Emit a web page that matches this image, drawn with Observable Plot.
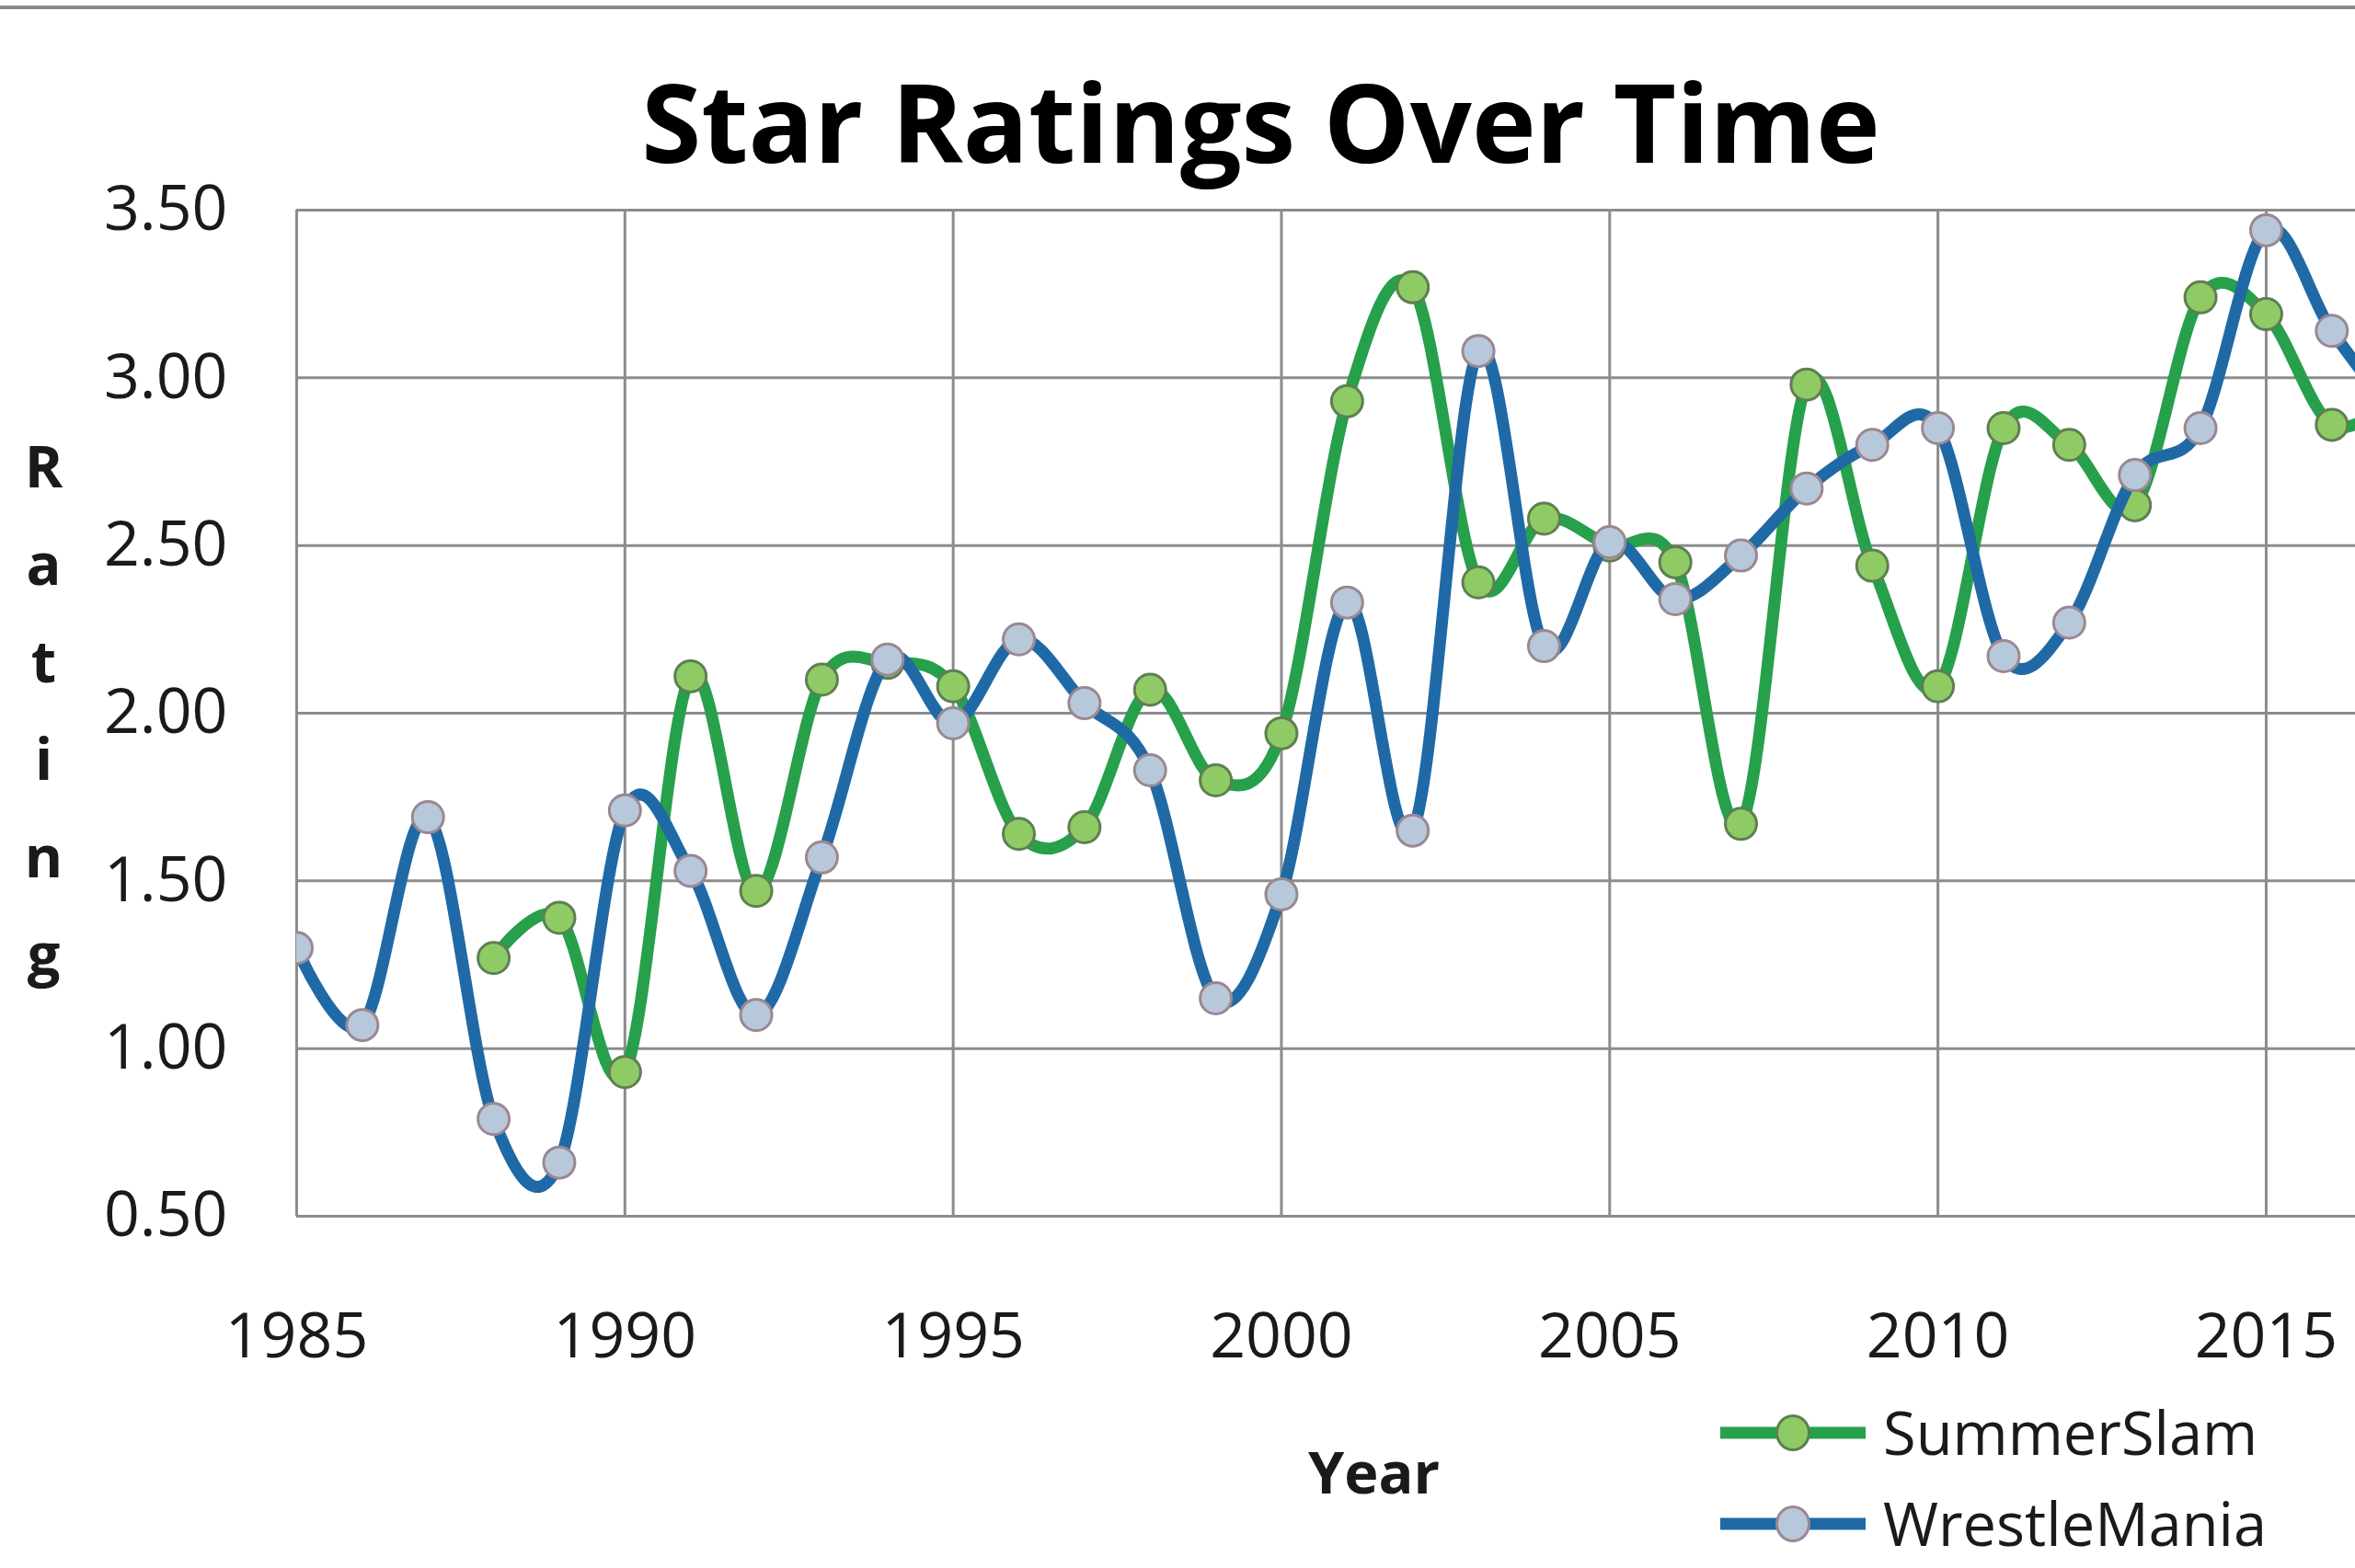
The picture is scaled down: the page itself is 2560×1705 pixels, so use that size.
<!DOCTYPE html>
<html>
<head>
<meta charset="utf-8">
<script src="https://cdn.jsdelivr.net/npm/d3@7"></script>
<script src="https://cdn.jsdelivr.net/npm/@observablehq/plot@0.6"></script>
<style>
  html, body { margin: 0; padding: 0; background: #fff; }
  #wrap { position: relative; width: 2560px; height: 1705px; overflow: hidden; background: #fff; font-family: "Open Sans", sans-serif; }
  #topline { position: absolute; left: 0; top: 6px; width: 2560px; height: 4px; background: #8c8c8c; }
  #legend { position: absolute; left: 1870px; top: 1508px; }
  .row { display: flex; align-items: center; height: 99px; }
  .sw { position: relative; width: 158px; height: 40px; }
  .sw .ln { position: absolute; left: 0; right: 0; top: 50%; height: 13px; transform: translateY(-50%); }
  .sw .mk { position: absolute; left: 50%; top: 50%; width: 32px; height: 34px; border-radius: 50%; border: 3px solid; transform: translate(-50%, -50%); }
  .lab { margin-left: 19px; font-size: 65px; line-height: 1; color: #1a1a1a; }
</style>
</head>
<body>
<div id="wrap">
  <div id="chart"></div>
  <div id="topline"></div>
  <div id="legend"></div>
</div>
<script>
// ---- data ----
const wmYears = [1985,1986,1987,1988,1989,1990,1991,1992,1993,1994,1995,1996,1997,1998,1999,2000,2001,2002,2003,2004,2005,2006,2007,2008,2009,2010,2011,2012,2013,2014,2015,2016,2017];
const wrestleMania = [1.30,1.07,1.69,0.79,0.66,1.71,1.53,1.10,1.57,2.16,1.97,2.22,2.03,1.83,1.15,1.46,2.33,1.65,3.08,2.20,2.51,2.34,2.47,2.67,2.80,2.85,2.17,2.27,2.71,2.85,3.44,3.14,2.88];
const ssYears = [1988,1989,1990,1991,1992,1993,1994,1995,1996,1997,1998,1999,2000,2001,2002,2003,2004,2005,2006,2007,2008,2009,2010,2011,2012,2013,2014,2015,2016,2017];
const summerSlam = [1.27,1.39,0.93,2.11,1.47,2.10,2.15,2.08,1.64,1.66,2.07,1.80,1.94,2.93,3.27,2.39,2.58,2.50,2.45,1.67,2.98,2.44,2.08,2.85,2.80,2.62,3.24,3.19,2.86,2.95];
const xTicks = [1985,1990,1995,2000,2005,2010,2015];
const yTicks = [0.5,1.0,1.5,2.0,2.5,3.0,3.5];
const seriesNames = ["SummerSlam","WrestleMania"];
const titleText = "Star Ratings Over Time";
const xTitle = "Year";
const yTitle = "Rating";

// ---- styles ----
const colors = {
  SummerSlam: {line: "#27a04c", fill: "#8fcb65", stroke: "#5e7f52"},
  WrestleMania: {line: "#1f6aa6", fill: "#b8c8db", stroke: "#9b8791"}
};
const gridColor = "#8c8c8c";

const ss = ssYears.map((y, i) => ({year: y, rating: summerSlam[i]}));
const wm = wmYears.map((y, i) => ({year: y, rating: wrestleMania[i]}));

const chart = Plot.plot({
  width: 2560,
  height: 1705,
  marginLeft: 322,
  marginRight: 0,
  marginTop: 228,
  marginBottom: 383,
  style: {fontFamily: "'Open Sans', sans-serif", background: "transparent", color: "#1a1a1a", overflow: "visible"},
  x: {domain: [1985, 2016.36]},
  y: {domain: [0.5, 3.5]},
  marks: [
    Plot.gridX(xTicks, {stroke: gridColor, strokeOpacity: 1, strokeWidth: 3}),
    Plot.gridY(yTicks, {stroke: gridColor, strokeOpacity: 1, strokeWidth: 3}),
    Plot.axisX(xTicks, {tickSize: 0, tickPadding: 105, fontSize: 68, tickFormat: d => String(d), label: null}),
    Plot.axisY(yTicks, {tickSize: 0, tickPadding: 75, fontSize: 68, tickFormat: d3.format(".2f"), label: null}),
    Plot.line(ss, {x: "year", y: "rating", curve: "cardinal", tension: 0, stroke: colors.SummerSlam.line, strokeWidth: 13, clip: true}),
    Plot.dot(ss, {x: "year", y: "rating", r: 17, fill: colors.SummerSlam.fill, stroke: colors.SummerSlam.stroke, strokeWidth: 3, clip: true}),
    Plot.line(wm, {x: "year", y: "rating", curve: "cardinal", tension: 0, stroke: colors.WrestleMania.line, strokeWidth: 13, clip: true}),
    Plot.dot(wm, {x: "year", y: "rating", r: 17, fill: colors.WrestleMania.fill, stroke: colors.WrestleMania.stroke, strokeWidth: 3, clip: true}),
    Plot.text([titleText], {text: d => d, frameAnchor: "top", lineAnchor: "middle", dx: -71, dy: -89, fontSize: 118, fontWeight: "bold", fill: "#000"}),
    Plot.text([xTitle], {text: d => d, frameAnchor: "bottom", lineAnchor: "middle", dx: 52, dy: 281, fontSize: 63, fontWeight: "bold", fill: "#1a1a1a"}),
    Plot.text([yTitle.split("").join("\n")], {text: d => d, frameAnchor: "left", lineAnchor: "middle", textAnchor: "middle", dx: -275, dy: -14, lineHeight: 106/63, fontSize: 63, fontWeight: "bold", fill: "#1a1a1a"})
  ]
});
document.getElementById("chart").appendChild(chart);

// ---- legend ----
const legend = document.getElementById("legend");
for (const name of seriesNames) {
  const c = colors[name];
  const row = document.createElement("div");
  row.className = "row";
  const sw = document.createElement("div");
  sw.className = "sw";
  const ln = document.createElement("div");
  ln.className = "ln";
  ln.style.background = c.line;
  const mk = document.createElement("div");
  mk.className = "mk";
  mk.style.background = c.fill;
  mk.style.borderColor = c.stroke;
  sw.appendChild(ln); sw.appendChild(mk);
  const lab = document.createElement("span");
  lab.className = "lab";
  lab.textContent = name;
  row.appendChild(sw); row.appendChild(lab);
  legend.appendChild(row);
}
</script>
</body>
</html>
